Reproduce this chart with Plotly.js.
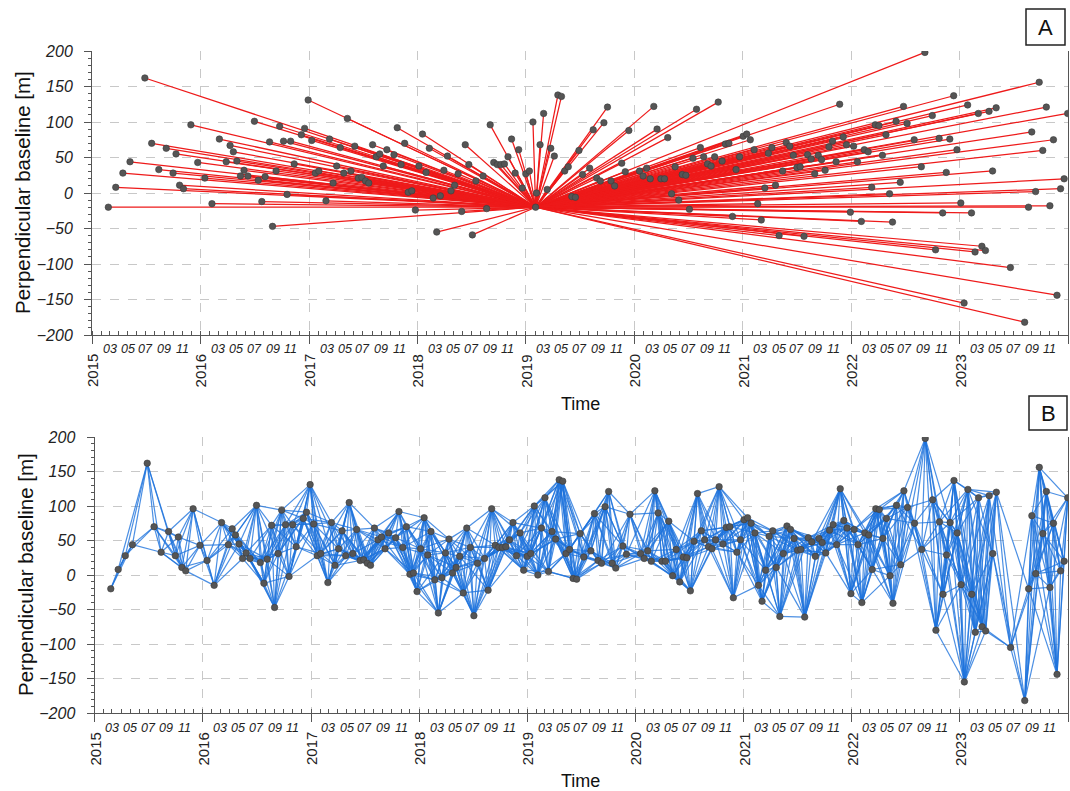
<!DOCTYPE html>
<html><head><meta charset="utf-8">
<script src="https://cdn.plot.ly/plotly-3.0.1.min.js"></script>
<style>html,body{margin:0;padding:0;background:#fff}#chart{width:1070px;height:791px}</style>
</head><body><div id="chart"></div>
<script>
// Acquisition dates and perpendicular baselines (m)
const dates = [
'2015-02-25','2015-03-22','2015-04-15','2015-05-09','2015-06-28','2015-07-21','2015-08-14','2015-09-08','2015-10-01','2015-10-11','2015-10-23','2015-11-05','2015-11-30','2015-12-23',
'2016-01-16','2016-02-09','2016-03-05','2016-03-28','2016-04-10','2016-04-21','2016-05-03','2016-05-15','2016-05-27','2016-06-09','2016-07-01','2016-07-14','2016-07-26','2016-08-06','2016-08-21','2016-08-31','2016-09-12','2016-09-24','2016-10-07','2016-10-19','2016-10-31','2016-11-12','2016-12-06','2016-12-17','2016-12-29',
'2017-01-10','2017-01-22','2017-02-03','2017-02-27','2017-03-11','2017-03-23','2017-04-04','2017-04-16','2017-04-28','2017-05-10','2017-05-22','2017-06-04','2017-06-16','2017-06-28','2017-07-10','2017-07-21','2017-08-03','2017-08-15','2017-08-27','2017-09-08','2017-09-20','2017-10-14','2017-10-25','2017-11-07','2017-11-19','2017-12-01','2017-12-13','2017-12-25',
'2018-01-06','2018-01-18','2018-01-30','2018-02-10','2018-02-23','2018-03-07','2018-03-19','2018-03-31','2018-04-12','2018-04-24','2018-05-06','2018-05-18','2018-05-30','2018-06-11','2018-06-23','2018-07-05','2018-07-17','2018-08-10','2018-08-22','2018-09-03','2018-09-15','2018-09-27','2018-10-09','2018-10-21','2018-11-02','2018-11-14','2018-11-26','2018-12-08','2018-12-20',
'2019-01-01','2019-01-13','2019-01-25','2019-02-06','2019-02-18','2019-03-02','2019-03-14','2019-03-26','2019-04-07','2019-04-19','2019-05-01','2019-05-12','2019-05-24','2019-06-05','2019-06-17','2019-06-29','2019-07-11','2019-08-04','2019-08-16','2019-08-28','2019-09-09','2019-09-21','2019-10-03','2019-10-15','2019-10-27','2019-11-20','2019-12-02','2019-12-14',
'2020-01-19','2020-01-31','2020-02-12','2020-02-24','2020-03-07','2020-03-18','2020-03-31','2020-04-12','2020-04-23','2020-05-06','2020-05-18','2020-05-30','2020-06-11','2020-06-23','2020-07-05','2020-07-17','2020-07-29','2020-08-11','2020-08-22','2020-09-04','2020-09-16','2020-09-28','2020-10-10','2020-10-23','2020-11-03','2020-11-15','2020-11-27','2020-12-09','2020-12-21',
'2021-01-02','2021-01-14','2021-01-26','2021-02-08','2021-02-20','2021-03-04','2021-03-16','2021-03-28','2021-04-09','2021-04-21','2021-05-03','2021-05-15','2021-05-27','2021-06-08','2021-06-20','2021-07-02','2021-07-13','2021-07-26','2021-08-07','2021-08-19','2021-08-31','2021-09-12','2021-09-23','2021-10-05','2021-10-18','2021-10-30','2021-11-11','2021-11-23','2021-12-05','2021-12-16','2021-12-29',
'2022-01-09','2022-01-22','2022-02-04','2022-02-14','2022-02-27','2022-03-11','2022-03-23','2022-04-04','2022-04-16','2022-04-28','2022-05-10','2022-05-20','2022-06-01','2022-06-15','2022-06-26','2022-07-08','2022-08-01','2022-08-25','2022-09-06','2022-10-01','2022-10-12','2022-10-24','2022-11-05','2022-11-17','2022-11-29','2022-12-12','2022-12-23',
'2023-01-05','2023-01-16','2023-01-28','2023-02-10','2023-02-22','2023-03-05','2023-03-17','2023-03-29','2023-04-10','2023-04-22','2023-05-04','2023-06-21','2023-08-08','2023-08-21','2023-09-01','2023-09-14','2023-09-26','2023-10-08','2023-10-20','2023-11-01','2023-11-13','2023-11-25','2023-12-07','2023-12-19','2023-12-31'
];
const bperp = [
-20,8,28,44,162,70,33,63,28,55,11,6,96,43,
21,-15,76,44,67,58,45,24,32,24,101,18,-12,23,72,-47,31,94,73,-2,73,41,82,91,131,
74,28,31,-11,76,14,38,64,28,105,31,66,21,22,17,14,68,51,55,38,61,54,92,40,70,1,3,-24,
38,83,29,63,-7,-55,-4,32,52,3,11,27,-26,68,40,-59,17,24,-22,96,43,40,40,41,51,76,28,61,7,
27,31,100,0,68,112,5,63,52,138,136,31,37,-5,-6,60,26,35,89,21,17,99,121,17,10,42,30,88,
31,24,35,20,122,90,20,20,78,-1,37,-10,26,25,-23,49,118,64,51,41,38,51,128,45,69,70,-33,33,51,
80,83,75,61,-15,-38,7,56,64,11,-60,31,71,66,53,36,37,-61,54,48,27,53,47,32,65,73,44,125,79,68,-27,
66,44,-40,61,58,8,96,95,53,82,-1,-41,101,15,122,98,75,37,198,109,-80,77,-28,29,76,137,61,
-14,-155,124,-28,-83,112,-75,-81,115,31,120,-105,-182,-20,86,2,156,60,121,-18,75,-144,6,20,112
];
const masterDate = '2019-02-03';
const masterBperp = -20;
const yearLabels = ['2015','2016','2017','2018','2019','2020','2021','2022','2023'];
const monthLabels = ['03','05','07','09','11'];
const maxDays = 96, minLinks = 3;

const W = 1070, H = 791;
const px = v => v / W, py = v => 1 - v / H;

// star graph (A)
const sx = [], sy = [];
dates.forEach((d, i) => { sx.push(d, masterDate, null); sy.push(bperp[i], masterBperp, null); });

// small-baseline network (B)
const DAY = 86400000;
const t = dates.map(d => Date.parse(d));
const nx = [], ny = [];
for (let i = 0; i < dates.length; i++) {
  for (let j = i + 1; j < dates.length; j++) {
    const dt = (t[j] - t[i]) / DAY;
    if (dt <= maxDays || j - i <= minLinks) { nx.push(dates[i], dates[j], null); ny.push(bperp[i], bperp[j], null); }
    else break;
  }
}

const mk = {color: '#555555', size: 6.5, line: {color: '#3c3c3c', width: 0.6}};
const traces = [
  {x: sx, y: sy, mode: 'lines', line: {color: '#ee1a1a', width: 1.25}, xaxis: 'x', yaxis: 'y', hoverinfo: 'skip'},
  {x: dates.concat([masterDate]), y: bperp.concat([masterBperp]), mode: 'markers', marker: mk, xaxis: 'x', yaxis: 'y'},
  {x: nx, y: ny, mode: 'lines', line: {color: 'rgba(30,115,220,0.8)', width: 1.2}, xaxis: 'x2', yaxis: 'y2', hoverinfo: 'skip'},
  {x: dates, y: bperp, mode: 'markers', marker: mk, xaxis: 'x2', yaxis: 'y2'}
];

const FONT = 'Liberation Sans, Arial, sans-serif';
const gridc = '#c8c8c8', linec = '#555555';
function xax(d0, anchor) {
  return {type: 'date', range: ['2015-01-01', '2024-01-01'], domain: [px(d0), px(1068)], anchor: anchor,
    tickmode: 'linear', tick0: '2015-01-01', dtick: 'M12', showticklabels: false,
    ticks: 'outside', ticklen: 8, tickcolor: linec, showline: true, linecolor: linec, linewidth: 1,
    showgrid: true, gridcolor: gridc, griddash: 'dash', gridwidth: 1, zeroline: false,
    minor: {tick0: '2015-01-01', dtick: 'M1', ticks: 'inside', ticklen: 4, tickcolor: linec, showgrid: false},
    automargin: false, fixedrange: true};
}
function yax(top, bot, anchor) {
  return {range: [-200, 200], domain: [py(bot), py(top)], anchor: anchor,
    tickmode: 'linear', tick0: 0, dtick: 50, ticks: 'outside', ticklen: 7, tickcolor: linec,
    ticklabelstandoff: 8,
    tickfont: {family: FONT, size: 16, color: '#222', style: 'italic'},
    showline: true, mirror: true, linecolor: linec, linewidth: 1,
    showgrid: true, gridcolor: gridc, griddash: 'dash', gridwidth: 1, zeroline: false,
    minor: {dtick: 10, ticks: 'outside', ticklen: 3, tickcolor: linec, showgrid: false},
    automargin: false, fixedrange: true};
}
function yaxRight(top, bot, anchor, over) {
  return {range: [-200, 200], domain: [py(bot), py(top)], anchor: anchor, overlaying: over, side: 'right',
    tickmode: 'linear', tick0: 0, dtick: 50, ticks: 'inside', ticklen: 6, tickcolor: linec,
    showticklabels: false, showline: false, showgrid: false, zeroline: false,
    minor: {dtick: 10, ticks: 'inside', ticklen: 3, tickcolor: linec, showgrid: false},
    automargin: false, fixedrange: true};
}

const ann = [];
const panels = [{xr: 'x', axisY: 335, titleY: 404, yt: 193, xt: 22}, {xr: 'x2', axisY: 713, titleY: 781, yt: 575, xt: 25}];
panels.forEach(p => {
  yearLabels.forEach(yl => {
    ann.push({xref: p.xr, yref: 'paper', x: yl + '-01-01', y: py(p.axisY + 36), text: yl, showarrow: false,
      textangle: -90, xanchor: 'center', yanchor: 'middle', font: {family: FONT, size: 15, color: '#222'}});
    monthLabels.forEach(m => {
      ann.push({xref: p.xr, yref: 'paper', x: yl + '-' + m + '-01', y: py(p.axisY + 14.5), text: m, showarrow: false,
        xanchor: 'center', yanchor: 'middle', font: {family: FONT, size: 12.5, color: '#222', style: 'italic'}});
    });
  });
  ann.push({xref: 'paper', yref: 'paper', x: px(580), y: py(p.titleY), text: 'Time', showarrow: false,
    xanchor: 'center', yanchor: 'middle', font: {family: FONT, size: 18, color: '#111'}});
  ann.push({xref: 'paper', yref: 'paper', x: px(p.xt), y: py(p.yt), text: 'Perpendicular baseline [m]', showarrow: false,
    textangle: -90, xanchor: 'center', yanchor: 'middle', font: {family: FONT, size: 20.5, color: '#111'}});
});
ann.push({xref: 'paper', yref: 'paper', x: px(1045.5), y: py(27), text: 'A', showarrow: false, xanchor: 'center', yanchor: 'middle', font: {family: FONT, size: 22, color: '#111'}});
ann.push({xref: 'paper', yref: 'paper', x: px(1048), y: py(413), text: 'B', showarrow: false, xanchor: 'center', yanchor: 'middle', font: {family: FONT, size: 22, color: '#111'}});

const shapes = [
  {type: 'rect', xref: 'paper', yref: 'paper', x0: px(1026), x1: px(1065), y0: py(45), y1: py(9), line: {color: '#222', width: 1.5}},
  {type: 'rect', xref: 'paper', yref: 'paper', x0: px(1029), x1: px(1067), y0: py(430), y1: py(396), line: {color: '#222', width: 1.5}}
];

const layout = {
  width: W, height: H, margin: {l: 0, r: 0, t: 0, b: 0}, showlegend: false,
  paper_bgcolor: '#fff', plot_bgcolor: '#fff', font: {family: FONT},
  xaxis: xax(92, 'y'), yaxis: yax(51, 335, 'x'),
  xaxis2: xax(94.5, 'y2'), yaxis2: yax(437, 713, 'x2'),
  yaxis3: yaxRight(51, 335, 'x', 'y'), yaxis4: yaxRight(437, 713, 'x2', 'y2'),
  annotations: ann, shapes: shapes
};
Plotly.newPlot('chart', traces, layout, {staticPlot: true, displayModeBar: false});
</script>
</body></html>
